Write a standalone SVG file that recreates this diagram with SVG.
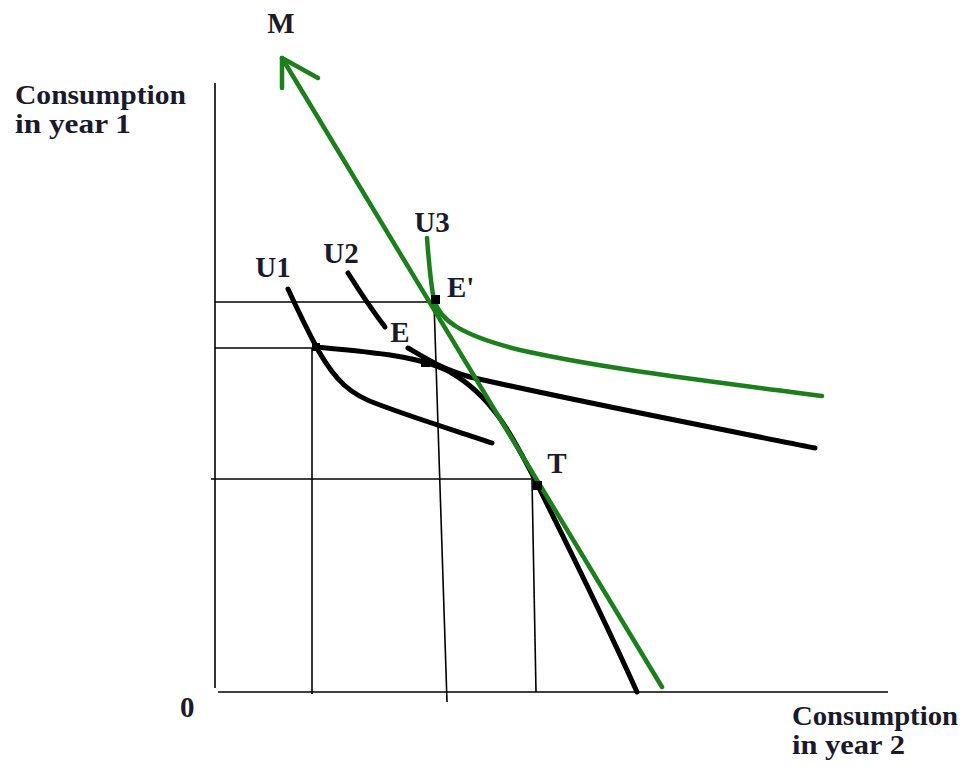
<svg xmlns="http://www.w3.org/2000/svg" width="963" height="773" viewBox="0 0 963 773">
<style>
.lbl{font-family:"Liberation Serif","Times New Roman",serif;font-weight:bold;font-size:29px;fill:#1a1a2e}
.ax{font-family:"Liberation Serif","Times New Roman",serif;font-weight:bold;font-size:27px;fill:#1a1a2e}
.thin{stroke:#000;stroke-width:1.6;fill:none}
.blk{stroke:#000;stroke-width:5;fill:none;stroke-linecap:round;stroke-linejoin:round}
.grn{stroke:#1b7f1b;stroke-width:4.5;fill:none;stroke-linecap:round;stroke-linejoin:round}
.dot{fill:#000}
</style>
<rect width="963" height="773" fill="#fff"/>
<g id="axes">
<path class="thin" d="M215,83 L215,688"/>
<path class="thin" d="M218,692 L888,692"/>
<text class="lbl" x="180" y="717">0</text>
<text class="ax" x="15" y="104" textLength="171" lengthAdjust="spacingAndGlyphs">Consumption</text>
<text class="ax" x="15" y="133" textLength="116" lengthAdjust="spacingAndGlyphs">in year 1</text>
<text class="ax" x="792" y="725" textLength="166" lengthAdjust="spacingAndGlyphs">Consumption</text>
<text class="ax" x="792" y="754" textLength="113" lengthAdjust="spacingAndGlyphs">in year 2</text>
</g>
<g id="guides">
<path class="thin" d="M215,302 L435,302"/>
<path class="thin" d="M215,348 L316,348"/>
<path class="thin" d="M211,479 L537,479"/>
<path class="thin" d="M312,348 L312,694"/>
<path class="thin" d="M434,302 L447,702"/>
<path class="thin" d="M532,480 L536,692"/>
</g>
<g id="ppf">
<path class="blk" d="M315,347 C370,352 420,356 450,372 C490,395 510,430 537,484 C570,550 600,610 637,692"/>
</g>
<g id="U1">
<path class="blk" d="M288,289 C300,315 310,335 318,350 C335,380 350,395 380,405 C420,420 460,432 492,443"/>
<text class="lbl" x="273" y="277" text-anchor="middle">U1</text>
</g>
<g id="U2">
<path class="blk" d="M348,273 C360,292 372,310 385,327"/>
<path class="blk" d="M408,348 C425,358 440,368 470,377 C580,402 700,425 815,448"/>
<text class="lbl" x="341" y="263" text-anchor="middle">U2</text>
</g>
<g id="U3">
<path class="grn" d="M427,238 C429,265 431,285 434,300 C440,320 460,335 520,350 C600,368 700,380 822,396"/>
<text class="lbl" x="432" y="232" text-anchor="middle">U3</text>
</g>
<g id="M">
<path class="grn" d="M662,687 L282,58"/>
<path class="grn" d="M282,88 L282,58 L318,78"/>
<text class="lbl" x="281" y="33" text-anchor="middle">M</text>
</g>
<g id="points">
<rect class="dot" x="431" y="295" width="9" height="9"/>
<rect class="dot" x="421" y="358" width="9" height="9"/>
<rect class="dot" x="533" y="481" width="9" height="9"/>
<rect class="dot" x="312" y="343" width="8" height="8"/>
<text class="lbl" x="447" y="297">E'</text>
<text class="lbl" x="400" y="342" text-anchor="middle">E</text>
<text class="lbl" x="557" y="473" text-anchor="middle">T</text>
</g>
</svg>
